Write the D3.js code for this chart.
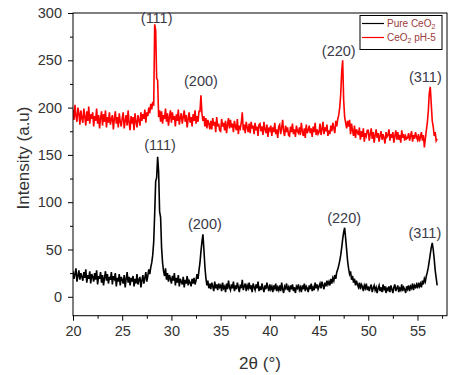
<!DOCTYPE html>
<html>
<head>
<meta charset="utf-8">
<script src="https://d3js.org/d3.v7.min.js"></script>
<style>
  * { margin: 0; padding: 0; }
  body { background: #fff; }
  text { font-family: "Liberation Sans", Arial, sans-serif; }
</style>
</head>
<body>
<script>
// 2theta positions (deg)
const twoTheta = [
  20.0,20.1,20.2,20.3,20.4,20.5,20.6,20.7,20.8,20.9,
  21.0,21.1,21.2,21.3,21.4,21.5,21.6,21.7,21.8,21.9,
  22.0,22.1,22.2,22.3,22.4,22.5,22.6,22.7,22.8,22.9,
  23.0,23.1,23.2,23.3,23.4,23.5,23.6,23.7,23.8,23.9,
  24.0,24.1,24.2,24.3,24.4,24.5,24.6,24.7,24.8,24.9,
  25.0,25.1,25.2,25.3,25.4,25.5,25.6,25.7,25.8,25.9,
  26.0,26.1,26.2,26.3,26.4,26.5,26.6,26.7,26.8,26.9,
  27.0,27.1,27.2,27.3,27.4,27.5,27.6,27.7,27.8,27.9,
  28.0,28.1,28.2,28.3,28.4,28.5,28.6,28.7,28.8,28.9,
  29.0,29.1,29.2,29.3,29.4,29.5,29.6,29.7,29.8,29.9,
  30.0,30.1,30.2,30.3,30.4,30.5,30.6,30.7,30.8,30.9,
  31.0,31.1,31.2,31.3,31.4,31.5,31.6,31.7,31.8,31.9,
  32.0,32.1,32.2,32.3,32.4,32.5,32.6,32.7,32.8,32.9,
  33.0,33.1,33.2,33.3,33.4,33.5,33.6,33.7,33.8,33.9,
  34.0,34.1,34.2,34.3,34.4,34.5,34.6,34.7,34.8,34.9,
  35.0,35.1,35.2,35.3,35.4,35.5,35.6,35.7,35.8,35.9,
  36.0,36.1,36.2,36.3,36.4,36.5,36.6,36.7,36.8,36.9,
  37.0,37.1,37.2,37.3,37.4,37.5,37.6,37.7,37.8,37.9,
  38.0,38.1,38.2,38.3,38.4,38.5,38.6,38.7,38.8,38.9,
  39.0,39.1,39.2,39.3,39.4,39.5,39.6,39.7,39.8,39.9,
  40.0,40.1,40.2,40.3,40.4,40.5,40.6,40.7,40.8,40.9,
  41.0,41.1,41.2,41.3,41.4,41.5,41.6,41.7,41.8,41.9,
  42.0,42.1,42.2,42.3,42.4,42.5,42.6,42.7,42.8,42.9,
  43.0,43.1,43.2,43.3,43.4,43.5,43.6,43.7,43.8,43.9,
  44.0,44.1,44.2,44.3,44.4,44.5,44.6,44.7,44.8,44.9,
  45.0,45.1,45.2,45.3,45.4,45.5,45.6,45.7,45.8,45.9,
  46.0,46.1,46.2,46.3,46.4,46.5,46.6,46.7,46.8,46.9,
  47.0,47.1,47.2,47.3,47.4,47.5,47.6,47.7,47.8,47.9,
  48.0,48.1,48.2,48.3,48.4,48.5,48.6,48.7,48.8,48.9,
  49.0,49.1,49.2,49.3,49.4,49.5,49.6,49.7,49.8,49.9,
  50.0,50.1,50.2,50.3,50.4,50.5,50.6,50.7,50.8,50.9,
  51.0,51.1,51.2,51.3,51.4,51.5,51.6,51.7,51.8,51.9,
  52.0,52.1,52.2,52.3,52.4,52.5,52.6,52.7,52.8,52.9,
  53.0,53.1,53.2,53.3,53.4,53.5,53.6,53.7,53.8,53.9,
  54.0,54.1,54.2,54.3,54.4,54.5,54.6,54.7,54.8,54.9,
  55.0,55.1,55.2,55.3,55.4,55.5,55.6,55.7,55.8,55.9,
  56.0,56.1,56.2,56.3,56.4,56.5,56.6,56.7,56.8,56.9,
  57.0
];

// intensity (a.u) - pure CeO2
const pureCeO2 = [
  27,19,24,30,16,22,28,18,25,21,
  17,26,20,29,15,23,19,27,14,24,
  21,16,25,18,28,13,22,19,26,15,
  23,12,20,27,17,24,14,21,18,26,
  13,22,19,25,11,20,16,24,12,21,
  18,14,23,10,19,26,15,21,12,20,
  16,22,11,19,14,24,13,18,21,10,
  17,23,14,20,26,16,22,29,24,31,
  36,44,58,88,122,126,148,132,90,84,
  52,36,27,22,30,18,25,16,23,19,
  14,22,17,25,12,20,15,23,11,19,
  16,13,21,10,18,14,22,12,17,15,
  11,19,14,20,13,17,24,19,28,36,
  48,58,66,50,32,20,12,17,9,14,
  8,15,11,6,16,9,13,7,14,10,
  12,6,15,9,11,5,14,8,17,10,
  7,13,9,16,6,12,8,15,10,5,
  13,9,18,7,11,14,6,12,9,15,
  8,12,5,14,10,7,13,9,16,6,
  11,7,14,9,5,12,8,15,10,6,
  13,8,11,5,12,9,14,6,10,7,
  12,6,15,8,4,11,9,14,7,10,
  5,12,8,13,6,10,4,11,9,13,
  7,10,5,12,8,14,6,11,9,5,
  12,8,14,6,10,7,15,9,13,8,
  11,14,9,16,12,8,15,11,17,13,
  16,12,19,14,20,17,23,19,26,29,
  33,38,44,52,61,68,73,62,50,38,
  30,24,27,18,22,15,19,12,17,13,
  10,15,8,13,11,6,12,9,14,7,
  11,6,10,13,5,9,12,7,10,4,
  9,12,6,10,5,13,8,11,4,9,
  7,11,5,12,8,4,10,13,6,9,
  12,5,9,7,13,6,10,8,4,11,
  8,12,6,11,9,14,7,12,10,13,
  9,15,11,14,10,17,13,19,16,22,
  26,31,38,45,52,57,50,40,28,20,
  12
];

// intensity (a.u) - CeO2 pH-5
const ceO2pH5 = [
  198,187,203,191,185,200,194,182,197,189,
  184,199,190,181,196,186,201,183,193,188,
  195,180,191,186,199,183,192,178,189,196,
  181,193,185,197,179,190,184,195,182,188,
  192,177,188,196,183,190,179,194,185,180,
  189,195,178,186,192,181,197,184,176,191,
  183,190,176,194,185,179,192,187,181,195,
  186,193,188,198,184,195,191,200,194,204,
  198,206,202,288,282,231,229,190,197,185,
  196,183,192,188,199,185,194,181,190,197,
  184,195,187,191,180,193,186,198,182,189,
  194,183,190,197,185,192,179,188,195,184,
  190,180,193,186,197,183,191,185,196,196,
  213,194,186,191,180,189,178,187,183,177,
  186,177,189,181,185,174,190,180,183,176,
  175,188,180,184,176,186,173,182,189,178,
  187,179,183,174,186,180,176,188,172,181,
  178,184,195,176,182,173,185,179,174,183,
  173,185,178,181,172,184,176,180,170,182,
  183,175,180,171,185,177,173,182,169,179,
  176,181,170,179,174,184,172,177,168,180,
  182,172,178,187,175,170,181,174,179,171,
  170,180,174,183,172,177,169,181,175,173,
  179,171,184,175,170,178,168,182,173,176,
  181,173,178,169,180,174,184,171,177,172,
  174,183,171,177,185,172,179,175,182,170,
  176,172,181,175,184,178,173,186,180,188,
  192,200,214,238,250,208,190,184,178,186,
  180,187,172,183,176,170,181,168,177,174,
  171,179,166,175,169,178,164,173,170,176,
  176,165,172,178,167,174,163,171,177,168,
  173,164,170,175,166,172,168,162,174,169,
  171,177,165,172,168,174,163,170,176,166,
  174,166,171,163,176,168,172,165,170,167,
  168,173,165,170,175,164,171,167,174,169,
  166,172,164,169,174,165,171,158,167,176,
  184,196,215,222,204,186,180,170,174,165,
  167
];

const xTicks = [20,25,30,35,40,45,50,55];
const xMinor = [22.5,27.5,32.5,37.5,42.5,47.5,52.5,57.5];
const yTicks = [0,50,100,150,200,250,300];
const yMinor = [-25,25,75,125,175,225,275];

const peakNames = ['(111)','(200)','(220)','(311)'];
const pureLabelAngle = [28.85,33.4,47.55,55.75];
const pureLabelValue = [155,72,78,62];
const phLabelAngle = [28.5,33.0,47.0,55.8];
const phLabelValue = [289,223,255,227];

const seriesNames = ['Pure CeO', 'CeO'];
const seriesColors = ['#000000', '#ff0000'];

const W = 456, H = 375;
const svg = d3.select('body').append('svg')
  .attr('width', W).attr('height', H);

const x = d3.scaleLinear().domain([20, 58]).range([73, 447]);
const y = d3.scaleLinear().domain([-20, 300]).range([315.7, 13]);

// axes
const gx = svg.append('g').attr('transform', 'translate(0,315.7)');
gx.call(d3.axisBottom(x).tickValues(xTicks).tickSize(5).tickPadding(5).tickFormat(d3.format('d')));
gx.append('g').call(d3.axisBottom(x).tickValues(xMinor.filter(d => d <= 58)).tickSize(3).tickFormat(''));

const gy = svg.append('g').attr('transform', 'translate(73,0)');
gy.call(d3.axisLeft(y).tickValues(yTicks).tickSize(5).tickPadding(6).tickFormat(d3.format('d')));
gy.append('g').call(d3.axisLeft(y).tickValues(yMinor.filter(d => d >= -20)).tickSize(3).tickFormat(''));

svg.selectAll('.domain').remove();
svg.selectAll('.tick line').attr('stroke', '#000');
svg.selectAll('.tick text').attr('fill', '#333').style('font-size', '14.5px')
  .style('font-family', '"Liberation Sans", Arial, sans-serif');

// data lines
const line = d3.line().x((d, i) => x(twoTheta[i])).y(d => y(d));
svg.append('clipPath').attr('id', 'plot')
  .append('rect').attr('x', 73).attr('y', 13).attr('width', 374).attr('height', 302.7);

svg.append('path').datum(pureCeO2)
  .attr('d', line).attr('fill', 'none')
  .attr('stroke', seriesColors[0]).attr('stroke-width', 1.6)
  .attr('clip-path', 'url(#plot)');
svg.append('path').datum(ceO2pH5)
  .attr('d', line).attr('fill', 'none')
  .attr('stroke', seriesColors[1]).attr('stroke-width', 1.6)
  .attr('clip-path', 'url(#plot)');

// frame
svg.append('rect')
  .attr('x', x(20)).attr('y', y(300))
  .attr('width', x(58) - x(20)).attr('height', y(-20) - y(300))
  .attr('fill', 'none').attr('stroke', '#000').attr('stroke-width', 1);

// peak labels
svg.selectAll('.lblPure').data(peakNames).enter().append('text')
  .attr('x', (d, i) => x(pureLabelAngle[i]))
  .attr('y', (d, i) => y(pureLabelValue[i]))
  .attr('text-anchor', 'middle').attr('fill', '#3a3a48')
  .style('font-size', '14.5px').text(d => d);
svg.selectAll('.lblPh').data(peakNames).enter().append('text')
  .attr('x', (d, i) => x(phLabelAngle[i]))
  .attr('y', (d, i) => y(phLabelValue[i]))
  .attr('text-anchor', 'middle').attr('fill', '#3a3a48')
  .style('font-size', '14.5px').text(d => d);

// axis titles
svg.append('text')
  .attr('transform', 'translate(29,158) rotate(-90)')
  .attr('text-anchor', 'middle').attr('fill', '#333')
  .style('font-size', '17px').text('Intensity (a.u)');
svg.append('text')
  .attr('x', 260).attr('y', 369)
  .attr('text-anchor', 'middle').attr('fill', '#333')
  .style('font-size', '17px').text('2θ (°)');

// legend
const lg = svg.append('g');
lg.append('rect').attr('x', 360).attr('y', 15.5).attr('width', 82).attr('height', 34)
  .attr('fill', '#fff').attr('stroke', '#000').attr('stroke-width', 1);
[0, 1].forEach(i => {
  const ly = 23.5 + i * 14;
  lg.append('line').attr('x1', 362).attr('x2', 384).attr('y1', ly).attr('y2', ly)
    .attr('stroke', seriesColors[i]).attr('stroke-width', 1.2);
  const t = lg.append('text').attr('x', 387).attr('y', ly + 3.5)
    .attr('fill', '#9b3b3b').style('font-size', '10px');
  t.append('tspan').text(seriesNames[i]);
  t.append('tspan').attr('dy', 2).style('font-size', '7px').text('2');
  if (i === 1) t.append('tspan').attr('dy', -2).text(' pH-5');
});
</script>
</body>
</html>
